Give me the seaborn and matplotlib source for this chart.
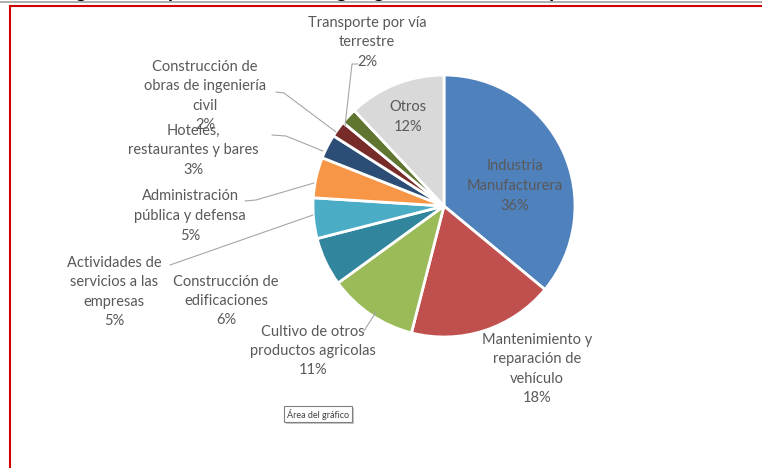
import matplotlib
matplotlib.use("Agg")
import matplotlib.pyplot as plt
import matplotlib.patheffects as pe
import numpy as np
import seaborn as sns

categories = [
    "Industria\nManufacturera",
    "Mantenimiento y\nreparación de\nvehículo",
    "Cultivo de otros\nproductos agricolas",
    "Construcción de\nedificaciones",
    "Actividades de\nservicios a las\nempresas",
    "Administración\npública y defensa",
    "Hoteles,\nrestaurantes y bares",
    "Construcción de\nobras de ingeniería\ncivil",
    "Transporte por vía\nterrestre",
    "Otros",
]
shares = [36, 18, 11, 6, 5, 5, 3, 2, 2, 12]
colors = ["#4F81BD", "#C0504D", "#9BBB59", "#31859C", "#4BACC6",
          "#F79646", "#2C4D75", "#772C2A", "#5F7530", "#D9D9D9"]

# label centres in pixels (x, y from top) and leader line points
label_pos = [(515, 186), (537, 369), (313, 351), (226, 301), (114, 292),
             (190, 216), (193, 150), (205, 96), (367, 42), (408, 117)]
leaders = {
    2: [(364, 331), (376, 312)],
    4: [(170, 265), (313, 215)],
    5: [(245, 201), (256, 200), (314, 183)],
    6: [(272, 135), (286, 136), (323, 151)],
    7: [(276, 92), (284, 93), (336, 132)],
    8: [(358, 64), (352, 64), (345, 126)],
}

W, H = 762, 468
sns.set_theme(style="white")
plt.rcParams["font.family"] = ["Lato", "DejaVu Sans"]

fig = plt.figure(figsize=(W / 100, H / 100), dpi=100)
ax = fig.add_axes([0, 0, 1, 1])

cx, cy, r = 444, 206, 131
ax.pie(shares, colors=colors, startangle=90, counterclock=False,
       center=(cx, H - cy), radius=r,
       wedgeprops=dict(edgecolor="white", linewidth=2))
ax.set_xlim(0, W)
ax.set_ylim(0, H)
ax.set_aspect("equal")
ax.axis("off")

txt_color = "#595959"
for i, (name, val) in enumerate(zip(categories, shares)):
    x, y = label_pos[i]
    ax.text(x, H - y, f"{name}\n{val}%", ha="center", va="center",
            fontsize=10.5, color=txt_color, linespacing=1.5, zorder=5)

for i, pts in leaders.items():
    xs = [p[0] for p in pts]
    ys = [H - p[1] for p in pts]
    ax.plot(xs, ys, color="#A6A6A6", lw=0.8, zorder=4)

# frame lines of the embedded chart area
ax.plot([0, W], [H - 2, H - 2], color="#A0A0A0", lw=1.2, clip_on=False)
ax.plot([10, W], [H - 5.5, H - 5.5], color="#D00000", lw=1.5, clip_on=False)
ax.plot([10, 10], [0, H - 5.5], color="#D00000", lw=1.5, clip_on=False)

# cut-off title at the very top
ax.text(60, H + 2, "Figura 5. Empleo formal total según gran sector de la empresa",
        ha="left", va="baseline", fontsize=14, fontweight="bold", color="black",
        clip_on=False)

# tooltip box with a soft shadow
tip = ax.text(318, H - 414, "Área del gráfico", ha="center", va="center",
              fontsize=6.5, color="#404040", zorder=7,
              bbox=dict(boxstyle="square,pad=0.3", facecolor="white",
                        edgecolor="#808080", linewidth=0.8))
tip.get_bbox_patch().set_path_effects(
    [pe.SimplePatchShadow(offset=(1.5, -1.5), shadow_rgbFace="#BBBBBB", alpha=0.8),
     pe.Normal()])

fig.savefig("out.png", dpi=100)
